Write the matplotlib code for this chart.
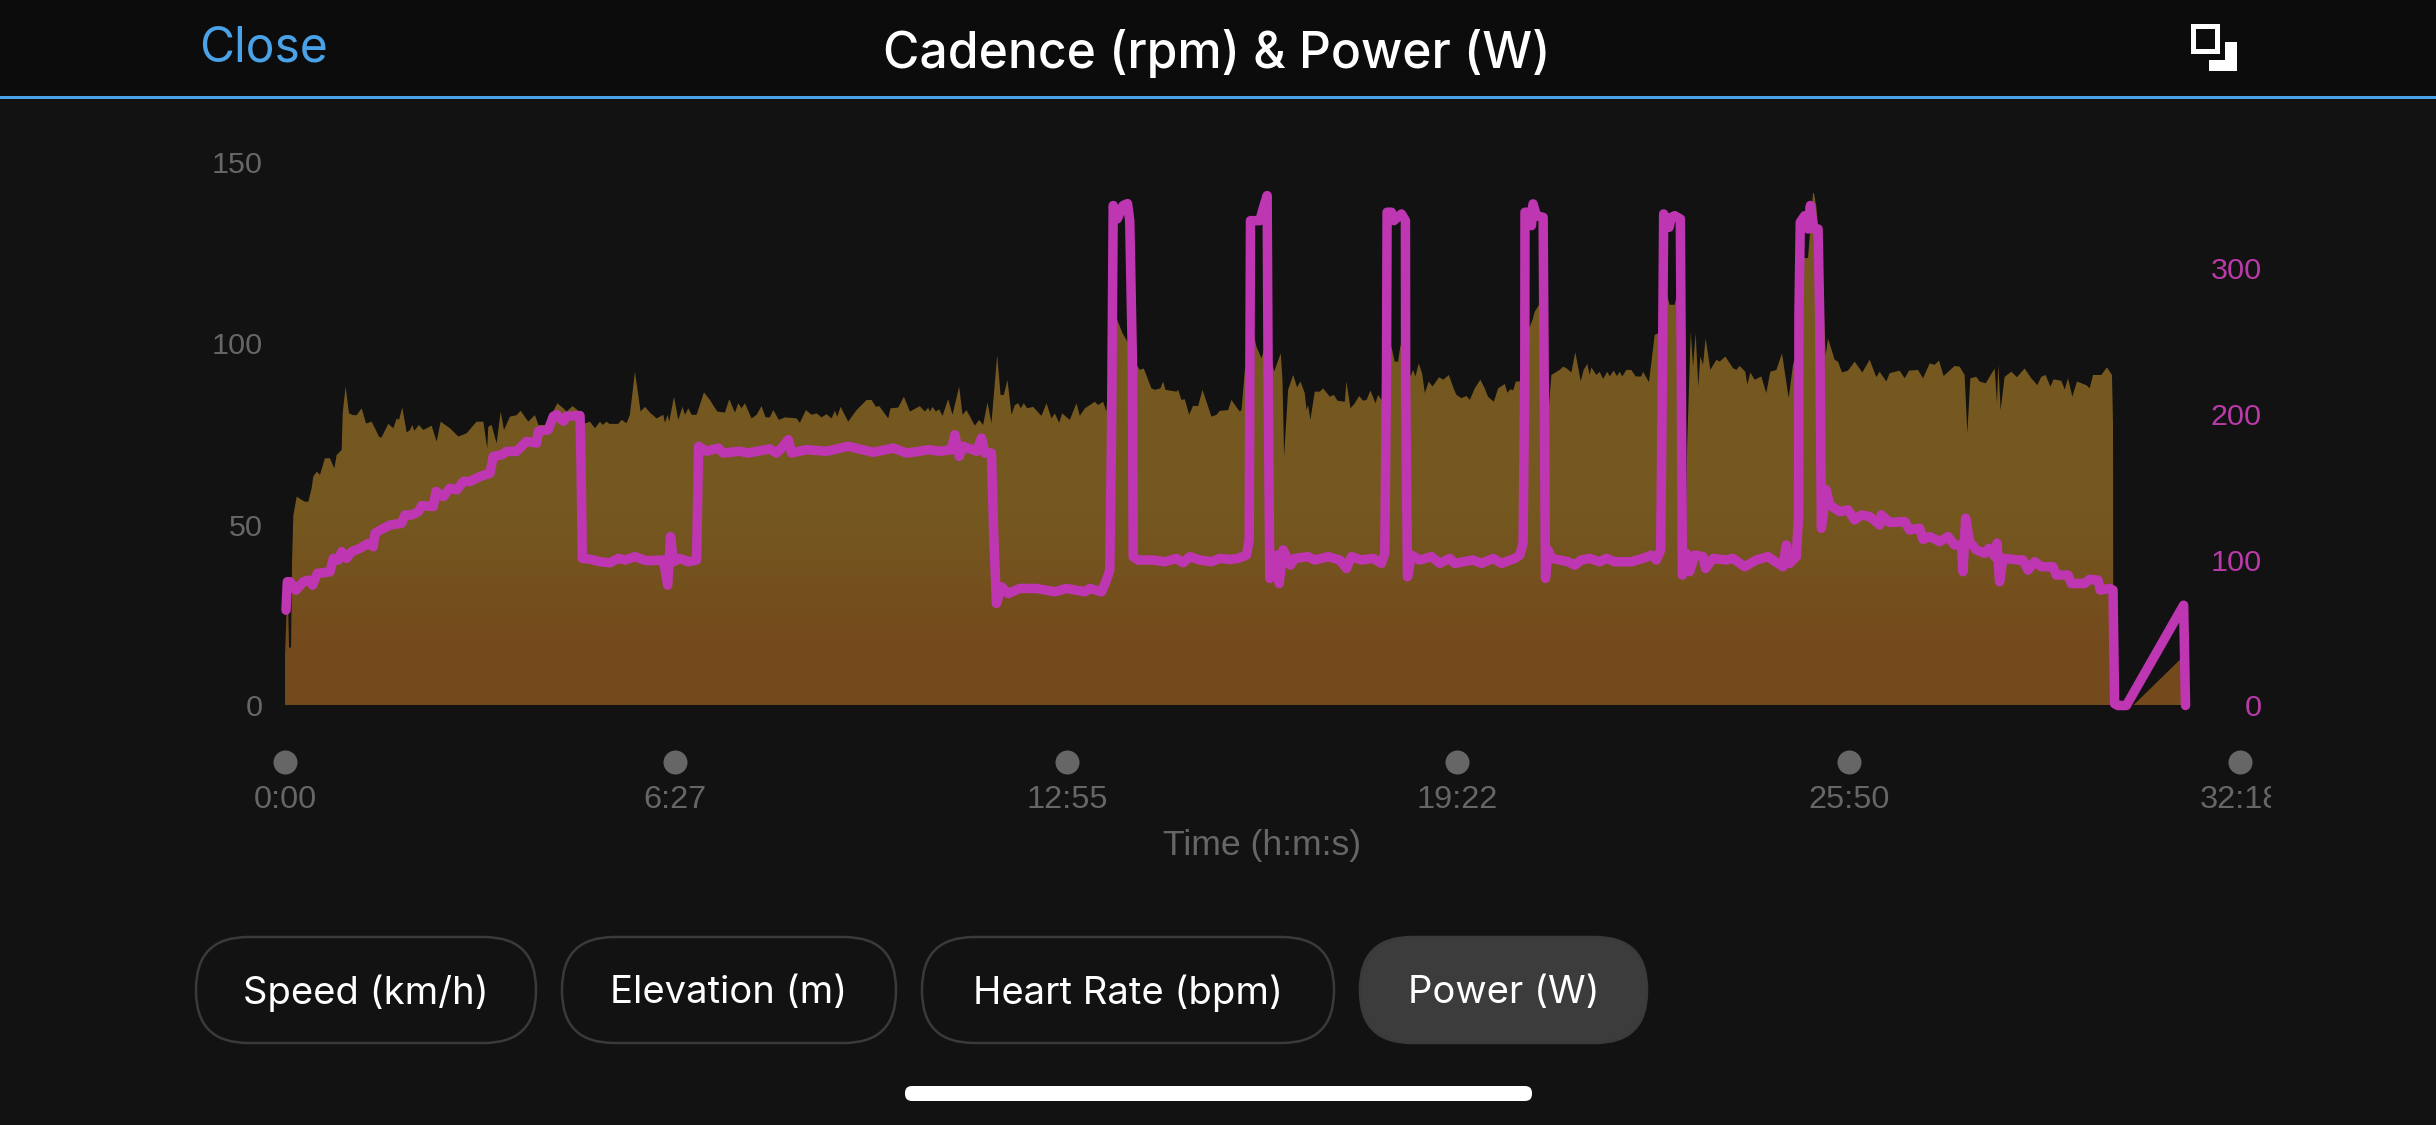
import matplotlib
matplotlib.use("Agg")
import matplotlib.pyplot as plt
import numpy as np
from matplotlib.colors import LinearSegmentedColormap
from matplotlib.patches import FancyBboxPatch, Rectangle
from matplotlib.transforms import Bbox

# Workout samples: time in seconds, cadence in rpm, power in watts
cadence_t = [
    0, 2, 3, 4, 6, 7, 8.3, 11.6, 16.5, 19.8, 23.1, 26.4, 28, 31.4, 34.7, 39.6, 44.6, 48.9, 51.2, 56.2,
    57.2, 60.1, 63.4, 67.7, 71, 76, 80.3, 85.9, 93.5, 95.8, 102.4, 107.4, 110.7, 113, 116.3, 120.6,
    123.9, 126.2, 128.2, 132.8, 137.1, 145.4, 150.3, 154.3, 163.5, 171.8, 180, 189.9, 196.6, 200.5,
    201.5, 204.8, 209.8, 213.8, 217.1, 223, 229.6, 233.6, 241.2, 242.8, 247.8, 251.1, 259.4, 269.9,
    275.9, 279.2, 285.1, 294, 297.3, 302.3, 307.3, 312.2, 314.8, 318.8, 321.5, 330.4, 333.7, 338.6,
    341.9, 346.9, 352.5, 356.8, 361.8, 368.4, 375, 376.6, 379.3, 380.9, 385.6, 389.8, 394.1, 396.5,
    399.8, 403.1, 408, 415.3, 421.2, 428.5, 436.1, 440.4, 446, 449.3, 452.6, 455.9, 462.5, 467.5,
    472.4, 476.4, 480.7, 484, 489.6, 495.6, 507.1, 510.4, 516.4, 522, 527, 531.9, 536.9, 541.8, 545.1,
    547.4, 550.8, 558.3, 566.6, 576.5, 581.5, 585.8, 589.1, 598, 600.3, 607.9, 613.5, 619.5, 629.3,
    634.3, 637.6, 639.2, 641.9, 645.2, 648.5, 651.8, 657.4, 661.7, 668.3, 671.6, 675.6, 683.8, 688.1,
    692.1, 696.4, 700.3, 706, 709.3, 712.6, 716.2, 720.2, 723.5, 726.8, 729.4, 732.4, 735.7, 741.6,
    749.9, 754.9, 759.8, 763.1, 767.4, 770.4, 778, 784.6, 787.9, 792.9, 802.8, 806.1, 811, 814.3, 817,
    820, 823, 830, 836, 843.4, 847.4, 851.3, 858.9, 862.2, 867.8, 870.5, 872.8, 883.7, 885.4, 888.7,
    892, 896.3, 900.2, 905.2, 909.5, 918.4, 923.4, 926.7, 934.9, 938.2, 944.8, 946.5, 948.2, 951.5,
    955, 960.4, 963, 968, 971.3, 978.5, 980.5, 987.1, 988.8, 990.4, 994.4, 999.4, 1003.3, 1006.6,
    1010.9, 1012.6, 1014.2, 1016.5, 1020.8, 1025.8, 1029.1, 1035.7, 1039.7, 1043.3, 1050.6, 1052.2,
    1056.2, 1060.5, 1064.8, 1068.7, 1072.1, 1076, 1081, 1083.6, 1086.9, 1090, 1093, 1096.8, 1100.1,
    1103.4, 1105.8, 1115.7, 1118.3, 1120.6, 1123.9, 1127.2, 1129.9, 1133.8, 1137.5, 1144.1, 1148.1,
    1153.7, 1159, 1161.3, 1166.2, 1171.2, 1174.5, 1179.4, 1185, 1189.3, 1192.6, 1198.3, 1202.6, 1209.2,
    1211.8, 1214.8, 1217.4, 1220.1, 1224, 1228, 1232, 1234, 1236.6, 1238.9, 1243.2, 1246, 1250, 1253.1,
    1255.4, 1263.6, 1266.9, 1270.2, 1275.2, 1279.1, 1281.8, 1284.4, 1287.4, 1291, 1293.3, 1295, 1300,
    1303.2, 1306.6, 1310.8, 1313.2, 1317.1, 1320.4, 1323.1, 1325.7, 1329.7, 1334.6, 1338.9, 1344.5,
    1346.2, 1352.1, 1357.8, 1361, 1366, 1370, 1372.6, 1377.6, 1379.9, 1383, 1387, 1388.5, 1390, 1393.5,
    1395.8, 1398.4, 1401, 1403, 1405.7, 1408.3, 1412.9, 1418.9, 1422.2, 1427.8, 1435.4, 1438.7, 1442,
    1447.6, 1449.6, 1452.6, 1456.9, 1463.5, 1468.4, 1472.4, 1478.4, 1484, 1490.6, 1494.9, 1497.5, 1500,
    1503, 1506.5, 1509.8, 1514.7, 1515.7, 1518, 1521.3, 1525.6, 1527.3, 1529.6, 1536.2, 1539.5, 1543.5,
    1549.4, 1556, 1563.6, 1570.9, 1577.5, 1580.8, 1587.4, 1590.7, 1600.6, 1605.6, 1609.9, 1618.8,
    1623.8, 1630.4, 1635.3, 1639.6, 1644.2, 1655.1, 1660.1, 1665, 1667.7, 1670.7, 1676.6, 1680, 1685.9,
    1694.8, 1697.1, 1698.4, 1700.7, 1704.7, 1711.3, 1716.9, 1724.5, 1731.1, 1737.1, 1741, 1745.3, 1750,
    1753.3, 1760.9, 1764.2, 1767.5, 1771.8, 1776.4, 1785.6, 1789, 1792.3, 1800.5, 1806.1, 1811.1,
    1812.1, 1812.5, 1832, 1879.8, 1880.5,
]
cadence_rpm = [
    14, 29, 29, 16, 16, 40, 52.6, 57.7, 56.8, 56.3, 56.3, 60, 63.2, 64.6, 63.7, 68.3, 68.3, 65.5, 69.2, 70.6,
    80.7, 88.1, 80.7, 80.2, 80.2, 82.1, 77.9, 78.4, 74.1, 74.1, 77.8, 76.6, 79.3, 78.9, 82.3, 75.4,
    76.1, 77.5, 75.9, 77.5, 76.1, 77.3, 72.9, 78.4, 76.6, 74.3, 75.2, 78.4, 78.4, 71,
    77, 77.5, 72.4, 81.2, 76.1, 79.8, 80.2, 81.4, 78.4, 78.9, 80.2, 77.5, 77.5, 83.5,
    82.1, 81.2, 82.7, 80.7, 77.9, 78.4, 76.6, 78.4, 77.5, 78.4, 77.8, 77.8, 78.9, 78,
    80.3, 92.2, 81.2, 82.5, 80.9, 79.3, 80.3, 78.1, 80.3, 78.4, 85.3, 78.9, 82.5, 80.3,
    82.1, 80.3, 80.3, 86.5, 84.4, 81.2, 80.9, 84.6, 80.9, 83.5, 82.1, 83.5, 79.3, 80.3,
    82.7, 79.6, 79.6, 81.6, 78.9, 79.6, 79.3, 78.1, 81.6, 80.3, 80.7, 79.6, 80.5, 79.3, 81.4,
    79.8, 82.5, 78.4, 81.6, 84.4, 84.4, 82.5, 82.7, 79.3, 82.1, 82.3, 85.3, 81.2, 82.7,
    81.2, 82.3, 81.2, 82.5, 81.2, 81.8, 80, 84.6, 80.3, 88.1, 80.3, 81.6, 77.3, 78.9,
    77.5, 83.7, 78, 96.8, 85.8, 85.8, 89.9, 80.3, 83, 83.5, 82.1, 83.5, 82.1, 82.5,
    80, 83.5, 79.3, 80.7, 78.1, 80.7, 78.9, 83.5, 80, 82.1, 83.9, 83, 83.9, 81.2, 95,
    108, 108, 103, 100, 94.5, 92.7, 93.1, 87.6, 87.2, 87.6, 89.5, 87.2, 86.7, 87.2, 84.4,
    84.6, 80.3, 82.8, 82.7, 87.2, 79.8, 80.3, 81.4, 81.6, 84.4, 81.8, 81.2, 81.6, 92.7,
    97, 102.4, 99.1, 95.9, 99.1, 95, 92.2, 97.3, 89.9, 68.8, 87.2, 91.3, 87.9, 89.5,
    86.3, 81.6, 83, 78.9, 86.7, 86.7, 87.6, 85.3, 85.8, 84.2, 83.9, 89.5,
    82.1, 83.5, 85.5, 84.2, 84.4, 87, 83.5, 85.8, 84.4, 88, 98, 99.1, 95,
    95, 99.6, 90.9, 92.7, 90.9, 94.5, 91.8, 86.3, 89.5, 88.1, 90.7, 90,
    91.3, 87.2, 85.8, 84.9, 85.5, 84.4, 87.6, 90, 87.6, 85.3, 83.9, 87.6, 88.8,
    86.4, 87.4, 87, 89.5, 89.5, 98, 104, 104.7, 106.5, 108.8, 110.7, 105, 85, 83.5,
    91.3, 92.7, 93.6, 93.2, 92, 97.6, 93.6, 89.5, 92.7, 94.4, 91.3, 93.4, 91.3,
    92.2, 90.2, 92.2, 90.9, 92.5, 91, 92.2, 90.9, 92.7, 92.7, 90.9, 90.9,
    92.2, 89.3, 102.4, 102.8, 110, 113.4, 110.7, 110.7, 113.4, 100, 85, 44, 72, 103.3,
    93.6, 102.8, 88.1, 96.4, 94.1, 101.5, 92.7, 95.5, 95, 96.4, 93.2, 92.7, 93.8,
    92.2, 88.6, 92, 90, 90.9, 86.3, 92.2, 92.7, 97.3, 84.9, 94.1, 96.8, 110,
    125, 123.6, 123.6, 141.5, 141.5, 137.8, 126.8, 108.4, 96.8, 101.4, 95.5, 95, 92,
    92.5, 95, 92, 95.5, 90.7, 92.2, 89.5, 91.8, 92.5, 90.4, 92.5, 92.7,
    90.4, 94.5, 94.1, 95.3, 91, 93.8, 93.6, 91.3, 75.2, 90.4, 90.8, 89.5, 89,
    93.1, 83.5, 94.3, 81.6, 90.8, 92.2, 90.7, 93.1, 90.4, 88.5, 90.8, 91.3, 88.1,
    90.1, 89.7, 87.3, 90.4, 85.3, 89.5, 88.5, 87.6, 91.3, 91.3, 93.4, 91.3,
    78, 0, 0, 13, 0,
]

power_t = [
    1, 2.3, 5, 10.9, 18.2, 23.1, 27.4, 32, 44.6, 47.9, 52.9, 56.2, 61.1, 66.1, 74.3, 82.6, 87.5, 89.2,
    95.8, 104.1, 115.6, 118.9, 125.5, 132.2, 135.5, 147, 149.7, 156.9, 163.5, 170.2, 176.8, 183.4,
    193.3, 203.2, 206.5, 214.8, 219.7, 229.6, 239.5, 249.4, 251.1, 261, 266, 269.3, 275.9, 279.2,
    292.4, 293.4, 294.7, 302.3, 312.2, 322.1, 330.4, 337, 346.9, 358.5, 375, 379.3, 382.2, 384.9,
    391.5, 399.8, 408, 410, 418, 429.5, 434.5, 451, 459.2, 480.7, 487.3, 492.3, 498.9, 502.2, 517,
    536.9, 558.3, 583.1, 603, 616.2, 629.4, 637.6, 649.1, 660.7, 664, 668.3, 672.3, 685.5, 690.4,
    693.7, 700.3, 702.7, 705.3, 710.3, 716.9, 728.4, 745, 763.1, 774.7, 792.9, 797.8, 809.4, 814.3,
    817.6, 819.3, 821, 825, 830.8, 835.2, 837.4, 840, 840.8, 845.7, 860.6, 872.1, 883.7, 890.3,
    896.9, 906.8, 918.4, 926.7, 936.6, 944.8, 953.1, 955.8, 957.1, 966.3, 969.6, 973.6, 974.6, 976.2,
    979.5, 983.5, 985.5, 989.5, 992.8, 996.7, 1001, 1014.2, 1020.8, 1034.1, 1045.6, 1052.2, 1057.2,
    1067.1, 1078.7, 1086.9, 1090.2, 1091.9, 1092.5, 1096.8, 1099.1, 1106.7, 1110.7, 1110.9, 1112.7,
    1116.7, 1124.9, 1136.5, 1144.7, 1154.7, 1159.6, 1177.8, 1186, 1197.6, 1205.9, 1219.1, 1224, 1227.3,
    1229, 1229.2, 1233.3, 1235.6, 1237.2, 1240.6, 1247.2, 1249.5, 1252.1, 1255.4, 1263.7, 1271.9,
    1278.5, 1285.1, 1293.3, 1303.2, 1309.9, 1318.1, 1334.6, 1346.2, 1354.5, 1359.4, 1363.7, 1365.4,
    1366.7, 1372, 1374.3, 1377.6, 1383.2, 1384.2, 1385.2, 1389.2, 1392.5, 1397.4, 1405.7, 1408.3,
    1415.6, 1428.8, 1435.4, 1447, 1458.5, 1470.1, 1475, 1484.9, 1488.3, 1491.6, 1498.2, 1500.5, 1500.8,
    1502.1, 1506.5, 1509.8, 1512.1, 1515.4, 1519.7, 1521.3, 1523, 1527.9, 1531.2, 1541.1, 1549.4, 1556,
    1562.6, 1570.9, 1580.8, 1582.5, 1590.7, 1605.6, 1610.5, 1620.4, 1623.8, 1630.4, 1640.3, 1648.5,
    1655.1, 1661.7, 1663.4, 1666, 1670, 1676.6, 1684.9, 1689.2, 1694.8, 1697.1, 1699.7, 1703, 1717.9,
    1722.9, 1727.8, 1734.4, 1741, 1752.6, 1755.9, 1767.5, 1770.8, 1784, 1788.9, 1797.2, 1799.5, 1808.8,
    1812.1, 1813.7, 1817, 1825.3, 1882.1, 1884,
]
power_w = [
    65.4, 84.9, 84.9, 79.1, 84.9, 86, 82.6, 90.6, 91.7, 100.9, 99.8, 105.5, 100.9, 105.5, 107.8, 111.2, 108.9, 118.1,
    120.9, 123.8, 125, 130.7, 130.7, 133, 137.1, 136.5, 146.8, 143.3, 149.1, 147.9, 153.7, 153.7,
    157.1, 159.4, 170.9, 172, 174.3, 174.3, 181.2, 180, 188.1, 189.2, 198.4, 199.5, 195, 198.4,
    198.9, 168.6, 100.9, 100.4, 98.6, 97.9, 100.9, 99.8, 102.1, 99.3, 99.8, 82.6, 115.9, 98.6,
    100.9, 98.6, 99.8, 177.8, 174.4, 176.6, 173.2, 174.4, 173.2, 176, 173.2, 176.6, 182.4, 173.2, 175.5,
    174.4, 177.8, 173.7, 176.6, 173.2, 174.4, 175.5, 174.4, 175.5, 185.8, 170.9, 177.8, 174.4, 183.5,
    173.2, 173.2, 113.6, 70, 81.4, 76.8, 80.3, 80.3, 78, 80.3, 78, 80.3, 78, 86,
    92.9, 182.4, 343, 333.8, 343, 344.3, 332.5, 237.7, 102, 99.8, 99.8, 98.6, 100.9, 97.9,
    102.1, 99.8, 98.6, 100.9, 100.2, 100.9, 103.2, 113.6, 332.6, 332.6, 340.7, 349.8, 223.7, 87.2,
    102, 103.2, 83.7, 106.7, 102, 96.3, 100.9, 102.1, 99.8, 102.1, 99.8, 94, 102.1,
    99.8, 100.9, 97.5, 104.4, 223.7, 338.4, 338.4, 332.6, 337.2, 332.6, 223.7, 88.3,
    103.2, 99.8, 102.1, 97.5, 100.9, 97.5, 99.8, 97.5, 100.9, 97.5, 100.9, 103.2, 111.2,
    223.7, 338.4, 338.4, 329.2, 344.1, 336, 334.9, 87.2, 106.7, 100.9, 99.8, 98.6,
    96.3, 99.8, 100.9, 98.6, 100.9, 98.6, 98.6, 100.9, 103.2, 99.8, 106.7, 223.7,
    337.2, 328, 334.9, 336, 333.8, 223.7, 89.5, 104.4, 91.8, 103.2, 102.1, 94,
    100.9, 99.8, 100.9, 95.2, 99.8, 102.1, 99.8, 95.2, 110.1, 97.5, 102.1, 131.9, 269.5,
    331.5, 336, 326.9, 343, 326.9, 326.9, 269.5, 121.6, 148, 137.6, 133, 134.2, 127.3,
    130.7, 129.6, 123.9, 130.8, 125.5, 126.2, 120.4, 121.6, 114, 115.9, 112.4, 115.9,
    110.1, 110.1, 91.8, 128.5, 112.4, 106.7, 104.4, 107.8, 102.1, 111.3, 84.9, 101, 99.8,
    99.8, 92.9, 98.6, 95.2, 95.2, 89.5, 89.5, 83.7, 83.7, 86.5, 86, 79.2, 80.3,
    79.2, 1.2, 0, 0, 68.8, 0,
]

y_ticks_cadence = [0, 50, 100, 150]
y_ticks_power = [0, 100, 200, 300]
x_ticks_seconds = [0, 387, 775, 1162, 1550, 1938]
x_tick_labels = ["0:00", "6:27", "12:55", "19:22", "25:50", "32:18"]
metric_buttons = ["Speed (km/h)", "Elevation (m)", "Heart Rate (bpm)", "Power (W)"]

W, H, DPI = 2436, 1125, 100
BG = "#121212"
HEADER = "#0C0C0C"
BLUE = "#4AA3E8"
GREY = "#666666"
MAGENTA = "#BF36B2"
MAGENTA_LABEL = "#B93AA8"
UI_FONT = ["Inter", "DejaVu Sans"]
AXIS_FONT = ["Liberation Sans", "DejaVu Sans"]


def px(points):
    return points * 72 / DPI


fig = plt.figure(figsize=(W / DPI, H / DPI), dpi=DPI, facecolor=BG)

# Screen furniture is laid out in a full-figure overlay using pixel units
ui = fig.add_axes([0, 0, 1, 1], zorder=0)
ui.set_xlim(0, W)
ui.set_ylim(H, 0)
ui.axis("off")
ui.add_patch(Rectangle((0, 0), W, 96, fc=HEADER, ec="none"))
ui.add_patch(Rectangle((0, 95.5), W, 3, fc=BLUE, ec="none"))
ui.text(199, 49, "Close", color=BLUE, fontsize=px(48), family=UI_FONT, va="center", ha="left")
ui.text(1217, 53, "Cadence (rpm) & Power (W)", color="white", fontsize=px(49.8), family=UI_FONT,
        weight=500, va="center", ha="center")

# Expand icon: outlined square plus a corner bracket
ui.add_patch(Rectangle((2192.5, 25.5), 24, 25, fc="none", ec="white", lw=px(5), joinstyle="miter"))
ui.add_patch(Rectangle((2225, 42), 12, 29, fc="white", ec="none"))
ui.add_patch(Rectangle((2209, 60), 28, 11, fc="white", ec="none"))

# Metric selector pills
pill_spans = [(196, 536), (562, 896), (922, 1334), (1360, 1647)]
for label, (x0, x1) in zip(metric_buttons, pill_spans):
    active = label == "Power (W)"
    ui.add_patch(FancyBboxPatch((x0 + 52, 937 + 52), x1 - x0 - 104, 2,
                                boxstyle="round,pad=52", mutation_aspect=1,
                                fc="#3C3C3C" if active else "none", ec="#3A3A3A", lw=px(2.5)))
    ui.text((x0 + x1) / 2, 993, label, color="white", fontsize=px(38.2), family=UI_FONT,
            va="center", ha="center")

# Home indicator
ui.add_patch(FancyBboxPatch((912, 1093), 613, 1, boxstyle="round,pad=7",
                            fc="white", ec="none"))

# Chart axes: cadence on the left, power on the right
ax = fig.add_axes([285 / W, (H - 705.5) / H, 1955 / W, 543 / H], zorder=1)
ax.patch.set_alpha(0)
for s in ax.spines.values():
    s.set_visible(False)

area = ax.fill_between(cadence_t, cadence_rpm, 0, facecolor="none", edgecolor="none")
shade = LinearSegmentedColormap.from_list(
    "cadence_fill",
    [(0, "#744A1C"), (16 / 150, "#744A1C"), (53 / 150, "#755820"), (1, "#755820")],
)
im = ax.imshow(np.linspace(0, 1, 256)[:, None], origin="lower", aspect="auto",
               extent=(0, 1938, 0, 150), cmap=shade, zorder=1)
im.set_clip_path(area.get_paths()[0], transform=ax.transData)

ax.set_xlim(0, 1938)
ax.set_ylim(0, 150)
ax.set_yticks(y_ticks_cadence)
ax.tick_params(axis="y", length=0, pad=px(22), labelcolor=GREY, labelsize=px(30.5))
ax.set_xticks(x_ticks_seconds)
ax.set_xticklabels(x_tick_labels)
ax.tick_params(axis="x", length=0, pad=px(80), labelcolor=GREY, labelsize=px(32.5))
for t in ax.get_yticklabels() + ax.get_xticklabels():
    t.set_family(AXIS_FONT)
ax.set_xlabel("Time (h:m:s)", color=GREY, fontsize=px(35.5), family=AXIS_FONT, labelpad=px(13))

# The final time label runs off the edge of the chart's scroll area
last_label = ax.get_xticklabels()[-1]
last_label.set_clip_box(Bbox([[0, 0], [2271, H]]))
last_label.set_clip_on(True)

# Time ticks are drawn as dots under the baseline
ax.plot(x_ticks_seconds, [-56 / 543] * len(x_ticks_seconds), "o", ms=px(24), mfc=GREY, mec="none",
        transform=ax.get_xaxis_transform(), clip_on=False, zorder=3)

ax2 = ax.twinx()
ax2.patch.set_alpha(0)
for s in ax2.spines.values():
    s.set_visible(False)
ax2.set_ylim(0, 372.5)
ax2.set_yticks(y_ticks_power)
ax2.tick_params(axis="y", length=0, pad=px(22), labelcolor=MAGENTA_LABEL, labelsize=px(30.5))
for t in ax2.get_yticklabels():
    t.set_family(AXIS_FONT)
    t.set_ha("right")
ax2.plot(power_t, power_w, color=MAGENTA, lw=px(9.5), solid_joinstyle="round",
         solid_capstyle="round", clip_on=False, zorder=4)

fig.savefig("out.png", dpi=DPI, facecolor=BG)
